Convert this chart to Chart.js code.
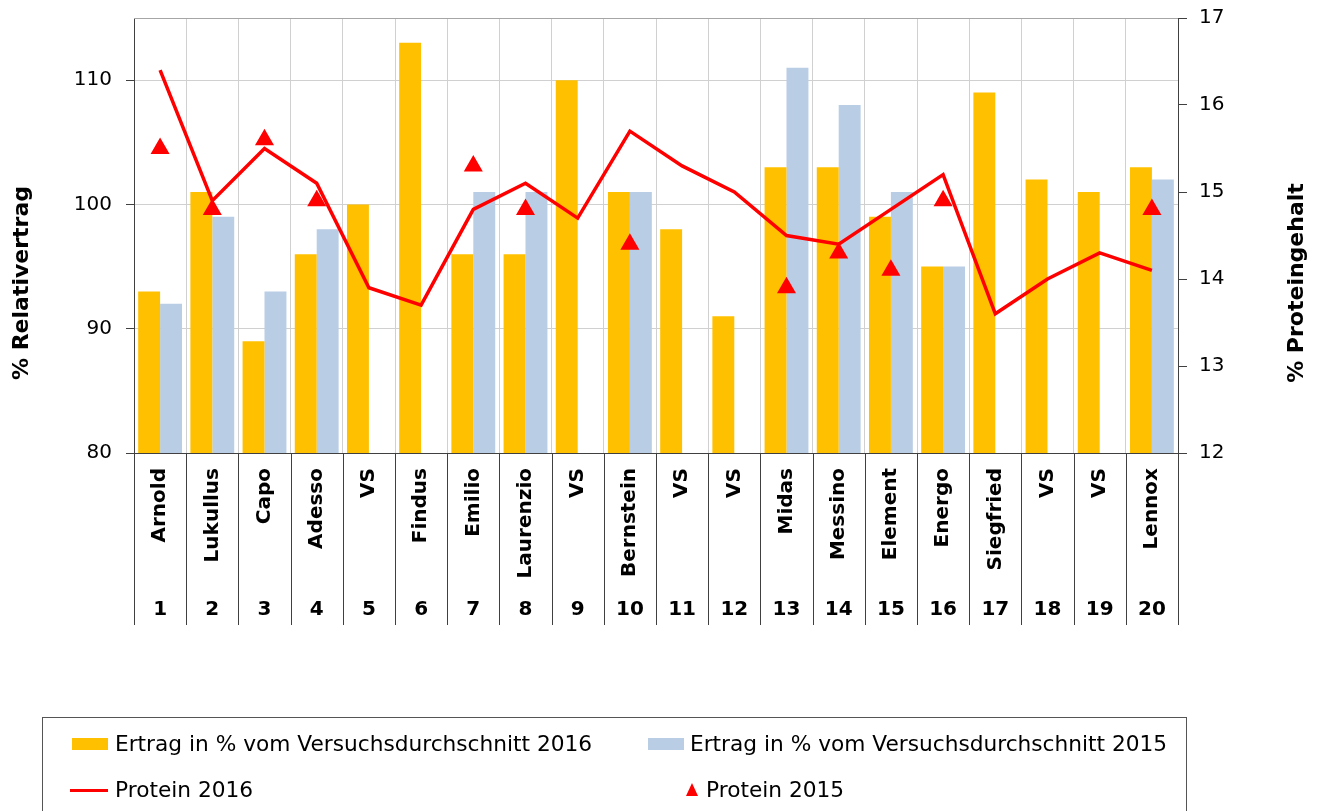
<!DOCTYPE html>
<html>
<head>
<meta charset="utf-8">
<script src="https://cdn.jsdelivr.net/npm/chart.js@4"></script>
<style>
  body { margin: 0; background: #fff; }
  #wrap { position: relative; width: 1323px; height: 811px; overflow: hidden; }
  canvas { position: absolute; left: 0; top: 0; }
  #legend {
    position: absolute; left: 42px; top: 717px; width: 1145px; height: 120px;
    border: 1px solid #555; box-sizing: border-box;
    font-family: "DejaVu Sans", sans-serif; font-size: 21.7px; color: #000;
  }
  .item { position: absolute; white-space: nowrap; line-height: 26px; }
  .sw { position: absolute; }
</style>
</head>
<body>
<div id="wrap">
  <canvas id="chart" width="1323" height="811"></canvas>
  <div id="legend">
    <div class="sw" style="left:29px;top:20px;width:36px;height:12px;background:#ffc000"></div>
    <div class="item" style="left:72px;top:13px">Ertrag in % vom Versuchsdurchschnitt 2016</div>
    <div class="sw" style="left:605px;top:20px;width:36px;height:12px;background:#b9cde5"></div>
    <div class="item" style="left:647px;top:13px">Ertrag in % vom Versuchsdurchschnitt 2015</div>
    <div class="sw" style="left:27px;top:71px;width:38px;height:3px;background:#ff0000"></div>
    <div class="item" style="left:72px;top:59px">Protein 2016</div>
    <div class="sw" style="left:643px;top:65px;width:0;height:0;border-left:6px solid transparent;border-right:6px solid transparent;border-bottom:13px solid #ff0000"></div>
    <div class="item" style="left:663px;top:59px">Protein 2015</div>
  </div>
</div>
<script>
const sorten = ['Arnold', 'Lukullus', 'Capo', 'Adesso', 'VS', 'Findus', 'Emilio', 'Laurenzio', 'VS', 'Bernstein',
                'VS', 'VS', 'Midas', 'Messino', 'Element', 'Energo', 'Siegfried', 'VS', 'VS', 'Lennox'];
const nummern = ['1', '2', '3', '4', '5', '6', '7', '8', '9', '10',
                 '11', '12', '13', '14', '15', '16', '17', '18', '19', '20'];
const ertrag2016 = [93, 101, 89, 96, 100, 113, 96, 96, 110, 101, 98, 91, 103, 103, 99, 95, 109, 102, 101, 103];
const ertrag2015 = [92, 99, 93, 98, null, null, 101, 101, null, 101, null, null, 111, 108, 101, 95, null, null, null, 102];
const protein2016 = [16.4, 14.9, 15.5, 15.1, 13.9, 13.7, 14.8, 15.1, 14.7, 15.7, 15.3, 15.0, 14.5, 14.4, 14.8, 15.2, 13.6, 14.0, 14.3, 14.1];
const protein2015 = [15.5, 14.8, 15.6, 14.9, null, null, 15.3, 14.8, null, 14.4, null, null, 13.9, 14.3, 14.1, 14.9, null, null, null, 14.8];

const FONT = '"DejaVu Sans", sans-serif';

// draws the label table under the x axis and the axis titles
const tablePlugin = {
    id: 'table',
    afterDraw(chart) {
        const ctx = chart.ctx;
        const area = chart.chartArea;
        const x = chart.scales.x;
        ctx.save();

        // top border of plot area
        ctx.strokeStyle = '#a6a6a6';
        ctx.lineWidth = 1;
        ctx.beginPath();
        ctx.moveTo(area.left, Math.round(area.top) + 0.5);
        ctx.lineTo(area.right, Math.round(area.top) + 0.5);
        ctx.stroke();

        ctx.strokeStyle = '#404040';
        for (let i = 0; i <= sorten.length; i++) {
            const px = Math.round(x.getPixelForValue(i - 0.5)) + 0.5;
            ctx.beginPath();
            ctx.moveTo(px, area.bottom);
            ctx.lineTo(px, 625);
            ctx.stroke();
        }

        ctx.fillStyle = '#000';
        ctx.font = 'bold 20px ' + FONT;
        sorten.forEach(function(name, i) {
            const cx = x.getPixelForValue(i);
            ctx.save();
            ctx.translate(cx, area.bottom + 15);
            ctx.rotate(-Math.PI / 2);
            ctx.textAlign = 'right';
            ctx.textBaseline = 'middle';
            ctx.fillText(name, 0, 0);
            ctx.restore();
        });
        ctx.textAlign = 'center';
        ctx.textBaseline = 'middle';
        nummern.forEach(function(n, i) {
            ctx.fillText(n, x.getPixelForValue(i), 610);
        });

        // axis titles
        ctx.font = 'bold 22px ' + FONT;
        ctx.save();
        ctx.translate(22, 283);
        ctx.rotate(-Math.PI / 2);
        ctx.fillText('% Relativertrag', 0, 0);
        ctx.restore();
        ctx.save();
        ctx.translate(1297, 283);
        ctx.rotate(-Math.PI / 2);
        ctx.fillText('% Proteingehalt', 0, 0);
        ctx.restore();

        ctx.restore();
    }
};

function fixWidth(w) {
    return function(scale) {
        scale.width = w;
        scale.paddingTop = 0;
        scale.paddingBottom = 0;
    };
}

new Chart(document.getElementById('chart').getContext('2d'), {
    type: 'bar',
    data: {
        labels: sorten,
        datasets: [{
            label: 'Protein 2015',
            type: 'line',
            data: protein2015,
            yAxisID: 'y2',
            showLine: false,
            pointStyle: 'triangle',
            pointRadius: 9,
            backgroundColor: '#ff0000',
            borderColor: '#ff0000',
            borderWidth: 2,
            order: 0
        }, {
            label: 'Protein 2016',
            type: 'line',
            data: protein2016,
            yAxisID: 'y2',
            borderColor: '#ff0000',
            borderWidth: 3.5,
            pointRadius: 0,
            fill: false,
            tension: 0,
            order: 1
        }, {
            label: 'Ertrag in % vom Versuchsdurchschnitt 2016',
            data: ertrag2016,
            yAxisID: 'y',
            backgroundColor: '#ffc000',
            barPercentage: 1,
            categoryPercentage: 0.84,
            order: 2
        }, {
            label: 'Ertrag in % vom Versuchsdurchschnitt 2015',
            data: ertrag2015,
            yAxisID: 'y',
            backgroundColor: '#b9cde5',
            barPercentage: 1,
            categoryPercentage: 0.84,
            order: 3
        }]
    },
    options: {
        responsive: false,
        devicePixelRatio: 1,
        animation: false,
        layout: { padding: { top: 18, left: 0, right: 0, bottom: 0 } },
        plugins: {
            legend: { display: false },
            tooltip: { enabled: false }
        },
        scales: {
            x: {
                offset: true,
                ticks: { display: false },
                grid: { offset: true, color: '#d0d0d0', drawTicks: false },
                border: { color: '#404040', width: 1 },
                afterFit: function(scale) { scale.height = 358; }
            },
            y: {
                position: 'left',
                min: 80,
                max: 115,
                afterBuildTicks: function(scale) {
                    scale.ticks = scale.ticks.filter(function(t) { return t.value % 10 === 0; });
                },
                ticks: { stepSize: 10, color: '#000', font: { family: FONT, size: 20 }, padding: 14 },
                grid: { color: '#d0d0d0', tickColor: '#404040', tickLength: 8 },
                border: { color: '#404040', width: 1 },
                afterFit: fixWidth(134)
            },
            y2: {
                position: 'right',
                min: 12,
                max: 17,
                ticks: { stepSize: 1, color: '#000', font: { family: FONT, size: 20 }, padding: 12 },
                grid: { drawOnChartArea: false, tickColor: '#404040', tickLength: 9 },
                border: { color: '#404040', width: 1 },
                afterFit: fixWidth(145)
            }
        }
    },
    plugins: [tablePlugin]
});
</script>
</body>
</html>
